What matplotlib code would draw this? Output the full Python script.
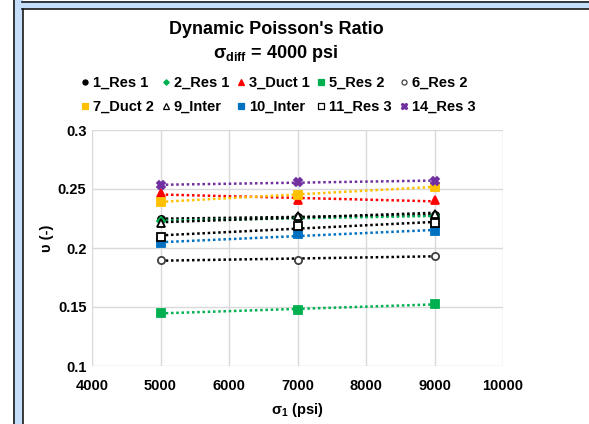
import numpy as np
import matplotlib
matplotlib.use('Agg')
import matplotlib.pyplot as plt
from matplotlib.patches import Rectangle
from matplotlib.lines import Line2D

# Confining stress levels (psi)
sigma1 = [5000, 7000, 9000]

# Dynamic Poisson's ratio per sample
names = ['1_Res 1', '2_Res 1', '3_Duct 1', '5_Res 2', '6_Res 2',
         '7_Duct 2', '9_Inter', '10_Inter', '11_Res 3', '14_Res 3']
res1_1 = [0.225, 0.226, 0.228]
res1_2 = [0.223, 0.2255, 0.227]
duct1_3 = [0.2463, 0.2405, 0.2405]
res2_5 = [0.1452, 0.1472, 0.1528]
res2_6 = [0.1898, 0.1900, 0.1935]
duct2_7 = [0.2393, 0.2450, 0.2520]
inter_9 = [0.2210, 0.2275, 0.2290]
inter_10 = [0.2040, 0.2119, 0.2144]
res3_11 = [0.2096, 0.2186, 0.2210]
res3_14 = [0.2534, 0.2557, 0.2570]
values = [res1_1, res1_2, duct1_3, res2_5, res2_6,
          duct2_7, inter_9, inter_10, res3_11, res3_14]

# marker, size, face colour, edge colour, trendline colour
styles = [('o', 5.2, 'black', 'black', 'black'),
          ('D', 4, '#00B050', '#00B050', '#00B050'),
          ('^', 6, '#FF0000', '#FF0000', '#FF0000'),
          ('s', 5.2, '#00B050', '#00B050', '#00B050'),
          ('o', 5.2, 'white', '#404040', 'black'),
          ('s', 5.2, '#FFC000', '#FFC000', '#FFC000'),
          ('^', 6, 'white', 'black', 'black'),
          ('s', 5.2, '#0070C0', '#0070C0', '#0070C0'),
          ('s', 5.2, 'white', 'black', 'black'),
          ('X', 6.2, '#7030A0', '#7030A0', '#7030A0')]

plt.rcParams['font.family'] = ['Liberation Sans', 'DejaVu Sans']
plt.rcParams['font.weight'] = 'bold'
plt.rcParams['mathtext.fontset'] = 'custom'
plt.rcParams['mathtext.rm'] = 'Liberation Sans:bold'
plt.rcParams['mathtext.it'] = 'Liberation Sans:bold'
plt.rcParams['mathtext.bf'] = 'Liberation Sans:bold'

W, H = 589, 424
fig = plt.figure(figsize=(W / 100, H / 100), dpi=100)
ax = fig.add_axes([92 / W, 1 - 366 / H, (503 - 92) / W, (366 - 130) / H])

handles = []
x = np.array(sigma1)
for name, v, (mk, ms, fc, ec, lc) in zip(names, values, styles):
    # linear trendline through each sample
    p = np.polyfit(x, v, 1)
    ax.plot(x, np.polyval(p, x), linestyle=(0, (1, 1.1)), lw=1.8, color=lc, zorder=2)
    ax.plot(x, v, linestyle='none', marker=mk, markersize=ms, markerfacecolor=fc,
            markeredgecolor=ec, markeredgewidth=1.3, zorder=3)
    handles.append(Line2D([0], [0], linestyle='none', marker=mk, markersize=ms * 0.7,
                          markerfacecolor=fc, markeredgecolor=ec, markeredgewidth=0.9, label=name))

ax.set_xlim(4000, 10000)
ax.set_ylim(0.1, 0.3)
ax.set_xticks(np.arange(4000, 10001, 1000))
ax.set_yticks([0.1, 0.15, 0.2, 0.25, 0.3])
ax.set_yticklabels(['0.1', '0.15', '0.2', '0.25', '0.3'])
ax.grid(True, color='#D9D9D9', lw=1)
ax.set_axisbelow(True)
for s in ax.spines.values():
    s.set_visible(False)
ax.tick_params(axis='both', length=0, labelsize=10.5)
ax.tick_params(axis='x', pad=9)
ax.tick_params(axis='y', pad=4)

ax.set_xlabel(r'σ$_1$ (psi)', fontsize=10.5, fontweight='bold', labelpad=6)
fig.text(47 / W, 1 - 238 / H, 'υ (-)', rotation=90, fontsize=10.5, fontweight='bold',
         ha='center', va='center')

fig.text(276 / W, 1 - 30 / H, "Dynamic Poisson's Ratio", fontsize=13, fontweight='bold',
         ha='center', va='center')
fig.text(275 / W, 1 - 53 / H, r'σ$_{\mathrm{diff}}$ = 4000 psi', fontsize=13, fontweight='bold',
         ha='center', va='center')

# legend filled column by column, so reorder to read row by row
order = [0, 5, 1, 6, 2, 7, 3, 8, 4, 9]
fig.legend([handles[i] for i in order], [names[i] for i in order], ncol=5,
           loc='center', bbox_to_anchor=(278 / W, 1 - 95 / H), frameon=False,
           fontsize=10.5, handlelength=0.6, handletextpad=0.25, columnspacing=0.5,
           labelspacing=0.68, borderpad=0)

# window frame around the chart
blue = '#C5DFFA'
fig.add_artist(Rectangle((13 / W, 0), 10 / W, 1, transform=fig.transFigure,
                         facecolor=blue, edgecolor='none'))
fig.add_artist(Rectangle((13 / W, 1 - 9 / H), 1, 8 / H, transform=fig.transFigure,
                         facecolor=blue, edgecolor='none'))
for xx in (13.5, 22.5):
    fig.add_artist(Line2D([xx / W, xx / W], [0, 1 - (9 if xx > 20 else 0) / H],
                          transform=fig.transFigure, color='#1a1a1a', lw=1.2))
fig.add_artist(Line2D([22 / W, 1], [1 - 9 / H, 1 - 9 / H], transform=fig.transFigure,
                      color='#1a1a1a', lw=1.2))
fig.add_artist(Line2D([22 / W, 1], [1 - 1.5 / H, 1 - 1.5 / H], transform=fig.transFigure,
                      color='#1a1a1a', lw=1.2))

fig.savefig('out.png', dpi=100)
